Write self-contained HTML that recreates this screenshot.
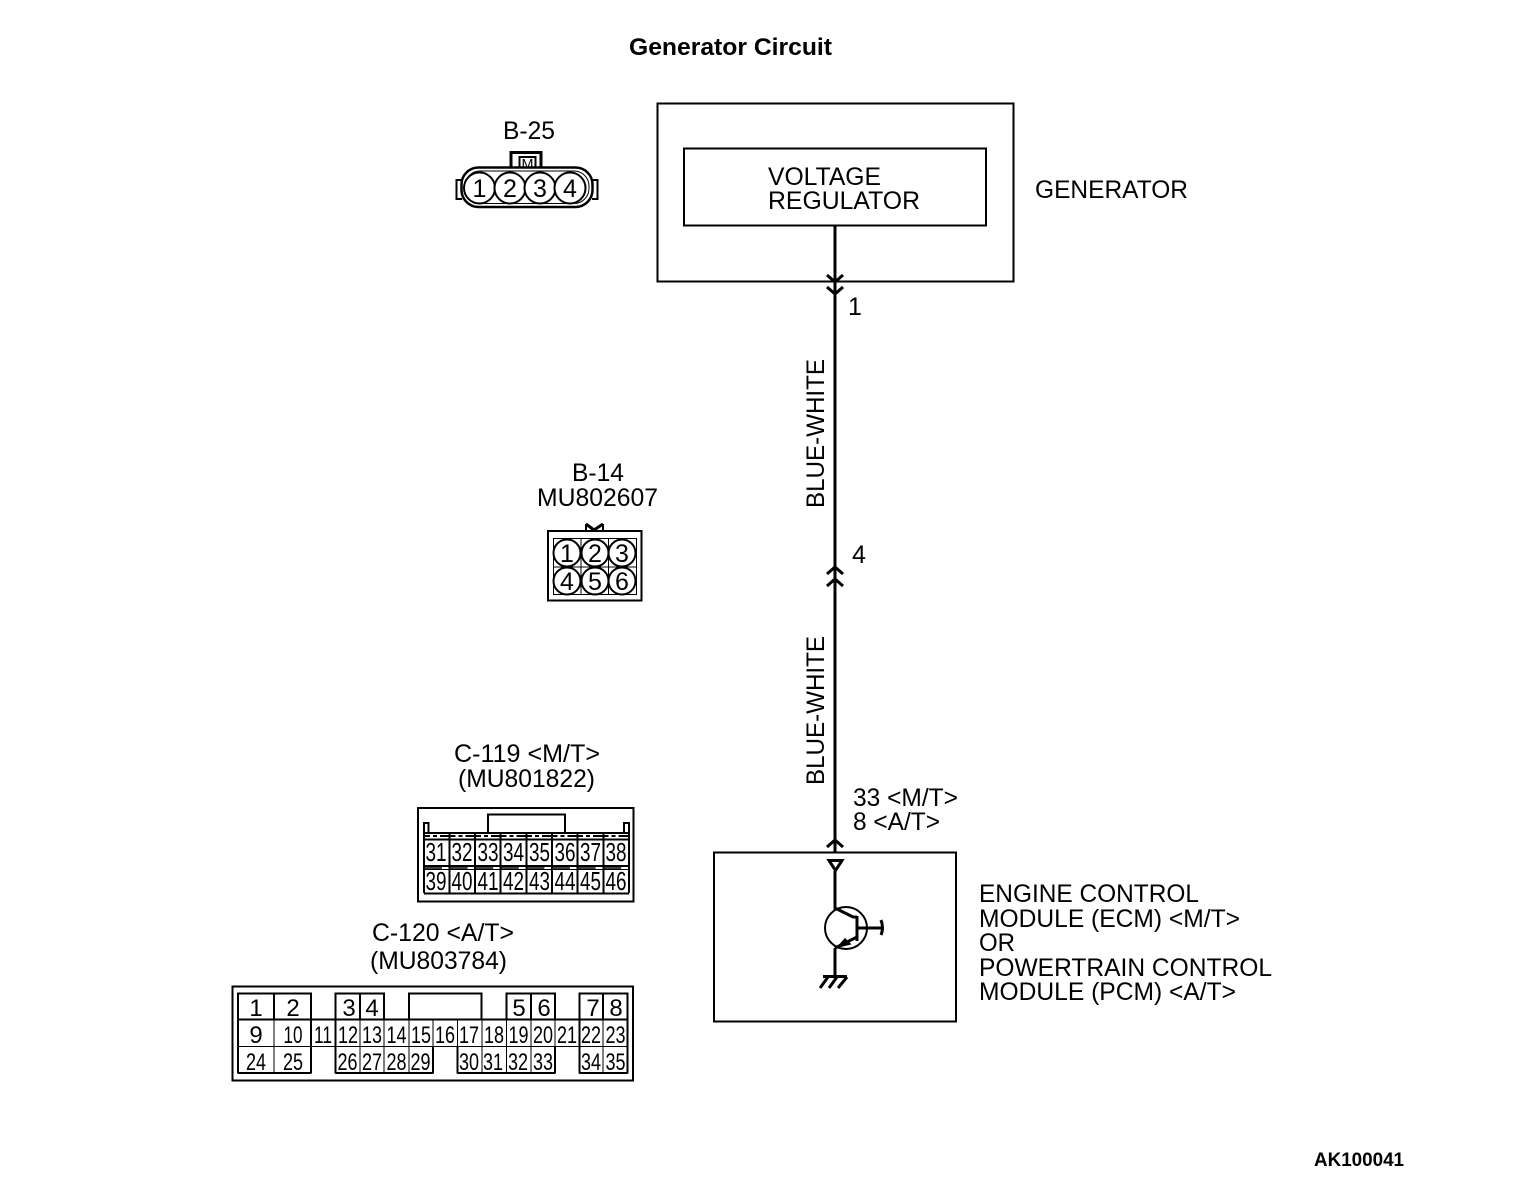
<!DOCTYPE html>
<html><head><meta charset="utf-8"><style>
html,body{margin:0;padding:0;background:#fff}
svg{display:block}
text{font-family:"Liberation Sans",sans-serif;fill:#000}
.t{font-size:25px}
.n{font-size:26px;text-anchor:middle}
.c{font-size:25px;text-anchor:middle}
.l{stroke:#000;fill:none;stroke-width:2}
.h{stroke:#000;fill:none;stroke-width:3}
.f{stroke:#000;fill:none;stroke-width:1}
</style></head><body>
<svg width="1520" height="1188" viewBox="0 0 1520 1188" xmlns="http://www.w3.org/2000/svg">
<text x="629" y="55" font-size="24" font-weight="bold" textLength="203" lengthAdjust="spacingAndGlyphs">Generator Circuit</text>
<text x="1314" y="1166" font-size="19" font-weight="bold" textLength="90" lengthAdjust="spacingAndGlyphs">AK100041</text>

<!-- generator -->
<rect x="657.500" y="103.500" width="356" height="178" class="l"/>
<rect x="684" y="148.500" width="302" height="77" class="l"/>
<text x="768" y="185" class="t" textLength="113" lengthAdjust="spacingAndGlyphs">VOLTAGE</text>
<text x="768" y="209" class="t" textLength="152" lengthAdjust="spacingAndGlyphs">REGULATOR</text>
<text x="1035" y="198" class="t" textLength="153" lengthAdjust="spacingAndGlyphs">GENERATOR</text>

<!-- wire -->
<path d="M835 226V852" class="h"/>
<path d="M827 275l8 7 8-7M827 287l8 7 8-7M827 574l8-7 8 7M827 586l8-7 8 7M827 847l8-7 8 7" class="h"/>
<text x="848" y="315" class="t">1</text>
<text x="852" y="563" class="t">4</text>
<text x="853" y="806" class="t" textLength="105" lengthAdjust="spacingAndGlyphs">33 &lt;M/T&gt;</text>
<text x="853" y="830" class="t" textLength="87" lengthAdjust="spacingAndGlyphs">8 &lt;A/T&gt;</text>
<text transform="translate(824,508) rotate(-90)" class="t" textLength="149" lengthAdjust="spacingAndGlyphs">BLUE-WHITE</text>
<text transform="translate(824,785) rotate(-90)" class="t" textLength="149" lengthAdjust="spacingAndGlyphs">BLUE-WHITE</text>

<!-- ECM -->
<rect x="714" y="852.500" width="242" height="169" class="l"/>
<path d="M829 860.500h13l-6.500 10z" class="h" stroke-width="2.500"/>
<path d="M835 871V910M835 948V977" class="h"/>
<circle cx="846" cy="928" r="21" class="l" stroke-width="2.500"/>
<path d="M835 908l18 9h4M857 916V941M857 928H882M857 937l-22 11" class="h" stroke-width="2.500"/>
<path d="M881 920q3 8 0 15" class="h" stroke-width="2.500"/>
<path d="M838 947l7-8 5 5z" fill="#000" stroke="#000" stroke-width="1.500"/>
<path d="M823 976.500H847M828 977l-8 11M837 977l-8 11M847 977l-9 11" class="h" stroke-width="2.500"/>
<text x="979" y="902" class="t" textLength="220" lengthAdjust="spacingAndGlyphs">ENGINE CONTROL</text>
<text x="979" y="927" class="t" textLength="261" lengthAdjust="spacingAndGlyphs">MODULE (ECM) &lt;M/T&gt;</text>
<text x="979" y="951" class="t" textLength="36" lengthAdjust="spacingAndGlyphs">OR</text>
<text x="979" y="976" class="t" textLength="293" lengthAdjust="spacingAndGlyphs">POWERTRAIN CONTROL</text>
<text x="979" y="1000" class="t" textLength="257" lengthAdjust="spacingAndGlyphs">MODULE (PCM) &lt;A/T&gt;</text>

<!-- B-25 -->
<text x="503" y="139" class="t" textLength="52" lengthAdjust="spacingAndGlyphs">B-25</text>
<rect x="511" y="152.500" width="30" height="16" class="h" stroke-width="2.500"/>
<rect x="519.500" y="157" width="16" height="11" class="l" stroke-width="1.500"/>
<text x="527.500" y="168.500" font-size="14" text-anchor="middle" textLength="12" lengthAdjust="spacingAndGlyphs">M</text>
<path d="M462 180H456.500V199H462M592 180H597.500V199H592" class="l"/>
<rect x="461.500" y="167.500" width="131" height="39.500" rx="17" fill="#fff" stroke="#000" stroke-width="2.500"/>
<rect x="465" y="171" width="124" height="32.500" rx="15" fill="#fff" stroke="#000" stroke-width="1"/>
<g fill="#fff" stroke="#000" stroke-width="2">
<circle cx="479.500" cy="188" r="15.500"/><circle cx="510" cy="188" r="15.500"/><circle cx="540" cy="188" r="15.500"/><circle cx="570" cy="188" r="15.500"/></g>
<text x="479.500" y="197" class="c">1</text><text x="510" y="197" class="c">2</text><text x="540" y="197" class="c">3</text><text x="570" y="197" class="c">4</text>

<!-- B-14 -->
<text x="572" y="481" class="t" textLength="52" lengthAdjust="spacingAndGlyphs">B-14</text>
<text x="537" y="506" class="t" textLength="121" lengthAdjust="spacingAndGlyphs">MU802607</text>
<path d="M586 524l8 6 9-6" class="h"/>
<path d="M586 524v6M603 524v6" class="l"/>
<rect x="548" y="531" width="93.500" height="69.500" class="l"/>
<rect x="553.500" y="538.500" width="83" height="56" class="f"/>
<path d="M581 538.500V594.500M608.500 538.500V594.500M553.500 567H636.500" class="f"/>
<g fill="#fff" stroke="#000" stroke-width="2">
<circle cx="567" cy="553" r="13.500"/><circle cx="595" cy="553" r="13.500"/><circle cx="622" cy="553" r="13.500"/>
<circle cx="567" cy="581" r="13.500"/><circle cx="595" cy="581" r="13.500"/><circle cx="622" cy="581" r="13.500"/></g>
<g font-size="25" text-anchor="middle">
<text x="567" y="562">1</text><text x="595" y="562">2</text><text x="622" y="562">3</text>
<text x="567" y="590">4</text><text x="595" y="590">5</text><text x="622" y="590">6</text></g>

<!-- C-119 -->
<text x="454" y="762" class="t" textLength="146" lengthAdjust="spacingAndGlyphs">C-119 &lt;M/T&gt;</text>
<text x="458" y="787" class="t" textLength="137" lengthAdjust="spacingAndGlyphs">(MU801822)</text>
<rect x="418" y="808" width="215.500" height="93.500" class="l"/>
<path d="M488 833V814.500H565V833" class="l"/>
<path d="M424 833V823H428.500V833M624 833V823H629V833" class="l"/>
<path d="M424 833H629M424 839.500H629M424 866H629M424 893.500H629" class="l"/>
<path d="M424 869.500H629" class="f"/>
<path d="M424 836h205" stroke="#000" stroke-width="2" stroke-dasharray="6 3 4 3 9.500 0"/>
<path d="M424 868h205" stroke="#000" stroke-width="1.500" stroke-dasharray="18 7.600"/>
<path d="M424 833V893M449.500 833V893M475 833V893M500.500 833V893M526.500 833V893M552 833V893M577.500 833V893M603.500 833V893M629 833V893" class="l"/>
<g class="n">
<text x="436" y="861" class="n" textLength="21" lengthAdjust="spacingAndGlyphs">31</text><text x="462" y="861" class="n" textLength="21" lengthAdjust="spacingAndGlyphs">32</text><text x="488" y="861" class="n" textLength="21" lengthAdjust="spacingAndGlyphs">33</text><text x="513.500" y="861" class="n" textLength="21" lengthAdjust="spacingAndGlyphs">34</text><text x="539.500" y="861" class="n" textLength="21" lengthAdjust="spacingAndGlyphs">35</text><text x="565" y="861" class="n" textLength="21" lengthAdjust="spacingAndGlyphs">36</text><text x="590.500" y="861" class="n" textLength="21" lengthAdjust="spacingAndGlyphs">37</text><text x="616" y="861" class="n" textLength="21" lengthAdjust="spacingAndGlyphs">38</text>
<text x="436" y="890" class="n" textLength="21" lengthAdjust="spacingAndGlyphs">39</text><text x="462" y="890" class="n" textLength="21" lengthAdjust="spacingAndGlyphs">40</text><text x="488" y="890" class="n" textLength="21" lengthAdjust="spacingAndGlyphs">41</text><text x="513.500" y="890" class="n" textLength="21" lengthAdjust="spacingAndGlyphs">42</text><text x="539.500" y="890" class="n" textLength="21" lengthAdjust="spacingAndGlyphs">43</text><text x="565" y="890" class="n" textLength="21" lengthAdjust="spacingAndGlyphs">44</text><text x="590.500" y="890" class="n" textLength="21" lengthAdjust="spacingAndGlyphs">45</text><text x="616" y="890" class="n" textLength="21" lengthAdjust="spacingAndGlyphs">46</text>
</g>

<!-- C-120 -->
<text x="372" y="941" class="t" textLength="142" lengthAdjust="spacingAndGlyphs">C-120 &lt;A/T&gt;</text>
<text x="370" y="969" class="t" textLength="137" lengthAdjust="spacingAndGlyphs">(MU803784)</text>
<rect x="232.500" y="986.500" width="400.500" height="94" class="l"/>
<path d="M238 1019.500V993.500H311V1019.500M274 993.500V1019.500M335.500 1019.500V993.500H384V1019.500M360 993.500V1019.500M506.500 1019.500V993.500H555V1019.500M531 993.500V1019.500M579.500 1019.500V993.500H627.500V1019.500M603 993.500V1019.500" class="l"/>
<path d="M409 1019V993.500H481.500V1019" class="l"/>
<path d="M238 1019.500H627.500M238 1073H311M335.500 1073H433M457.500 1073H555M579.500 1073H627.500M238 1019V1073.500M311 1019V1073.500M335.500 1019V1073.500M579.500 1019V1073.500M627.500 1019V1073.500M555 1046V1073.500M457.500 1046V1073.500M433 1046V1073.500" class="l"/>
<path d="M238 1046.500H627.500M274 1019V1073M360 1019V1073M384 1019V1073M409 1019V1073M482 1019V1073M506.500 1019V1073M531 1019V1073M555 1019V1046M603 1019V1073M433 1019V1046M457.500 1019V1046" class="f"/>
<g font-size="24" text-anchor="middle">
<text x="256" y="1016">1</text><text x="293" y="1016">2</text><text x="349" y="1016">3</text><text x="372" y="1016">4</text><text x="519" y="1016">5</text><text x="544" y="1016">6</text><text x="593" y="1016">7</text><text x="616" y="1016">8</text>
<text x="256" y="1043">9</text></g>
<g font-size="24" text-anchor="middle">
<text x="293" y="1043" textLength="19" lengthAdjust="spacingAndGlyphs">10</text><text x="323" y="1043" textLength="18" lengthAdjust="spacingAndGlyphs">11</text><text x="348" y="1043" textLength="20" lengthAdjust="spacingAndGlyphs">12</text><text x="372" y="1043" textLength="20" lengthAdjust="spacingAndGlyphs">13</text><text x="396.500" y="1043" textLength="20" lengthAdjust="spacingAndGlyphs">14</text><text x="421" y="1043" textLength="20" lengthAdjust="spacingAndGlyphs">15</text><text x="445" y="1043" textLength="20" lengthAdjust="spacingAndGlyphs">16</text><text x="469" y="1043" textLength="20" lengthAdjust="spacingAndGlyphs">17</text><text x="494" y="1043" textLength="20" lengthAdjust="spacingAndGlyphs">18</text><text x="518.500" y="1043" textLength="20" lengthAdjust="spacingAndGlyphs">19</text><text x="543" y="1043" textLength="20" lengthAdjust="spacingAndGlyphs">20</text><text x="567" y="1043" textLength="20" lengthAdjust="spacingAndGlyphs">21</text><text x="591" y="1043" textLength="20" lengthAdjust="spacingAndGlyphs">22</text><text x="615.500" y="1043" textLength="20" lengthAdjust="spacingAndGlyphs">23</text>
<text x="256" y="1070" textLength="20" lengthAdjust="spacingAndGlyphs">24</text><text x="293" y="1070" textLength="20" lengthAdjust="spacingAndGlyphs">25</text><text x="347.500" y="1070" textLength="20" lengthAdjust="spacingAndGlyphs">26</text><text x="372" y="1070" textLength="20" lengthAdjust="spacingAndGlyphs">27</text><text x="396.500" y="1070" textLength="20" lengthAdjust="spacingAndGlyphs">28</text><text x="420.500" y="1070" textLength="20" lengthAdjust="spacingAndGlyphs">29</text><text x="469" y="1070" textLength="20" lengthAdjust="spacingAndGlyphs">30</text><text x="493" y="1070" textLength="20" lengthAdjust="spacingAndGlyphs">31</text><text x="518" y="1070" textLength="20" lengthAdjust="spacingAndGlyphs">32</text><text x="543" y="1070" textLength="20" lengthAdjust="spacingAndGlyphs">33</text><text x="591" y="1070" textLength="20" lengthAdjust="spacingAndGlyphs">34</text><text x="615.500" y="1070" textLength="20" lengthAdjust="spacingAndGlyphs">35</text>
</g>
</svg>
</body></html>
